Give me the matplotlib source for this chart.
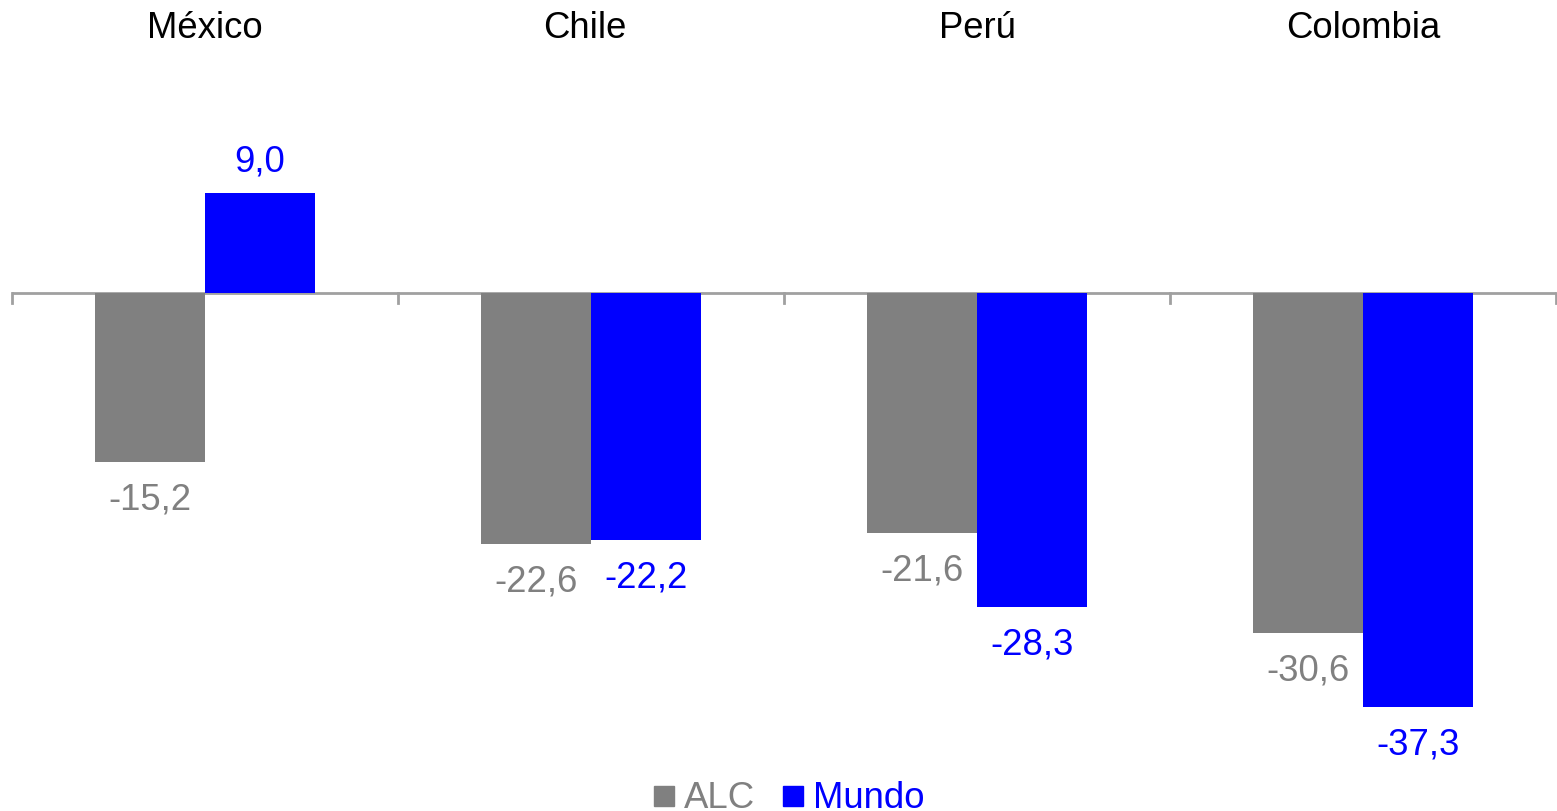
import matplotlib
matplotlib.use("Agg")
import matplotlib.pyplot as plt
import numpy as np
from matplotlib.lines import Line2D

plt.rcParams['font.family'] = ['Liberation Sans', 'DejaVu Sans']

categories = ["México", "Chile", "Perú", "Colombia"]
alc = [-15.2, -22.6, -21.6, -30.6]
mundo = [9.0, -22.2, -28.3, -37.3]
series_names = ["ALC", "Mundo"]
colors = ["#808080", "#0000FF"]

W, H = 1557, 811
fig = plt.figure(figsize=(W / 100, H / 100), dpi=100)
ax = fig.add_axes([12 / W, 0, 1544 / W, 1])

ppu = 100 / 9.0  # pixels per unit
zero_px = 293
ax.set_ylim(-(H - zero_px) / ppu, zero_px / ppu)
ax.set_xlim(-0.5, len(categories) - 0.5)

x = np.arange(len(categories))
bw = 110 / 386
b1 = ax.bar(x - bw / 2, alc, bw, color=colors[0], linewidth=0)
b2 = ax.bar(x + bw / 2, mundo, bw, color=colors[1], linewidth=0)

fs = 26.3
for bars, vals, c in [(b1, alc, colors[0]), (b2, mundo, colors[1])]:
    for rect, v in zip(bars, vals):
        off = 22.3 if v >= 0 else -27.3
        ax.annotate(f"{v:.1f}".replace(".", ","),
                    (rect.get_x() + rect.get_width() / 2, v),
                    xytext=(0, off), textcoords="offset points",
                    ha="center", va="center", color=c, fontsize=fs)

cat_dx = [0, -0.015, 0, 0]
for i, cat in enumerate(categories):
    ax.text(i + cat_dx[i], (zero_px - 28) / ppu, cat, ha="center", va="center",
            fontsize=fs, color="black")

# axis line and ticks
axis_color = "#A0A0A0"
ax.axhline(0, color=axis_color, linewidth=2, zorder=0.5)
for b in np.arange(-0.5, len(categories), 1.0):
    ax.plot([b, b], [0, -10 / ppu], color=axis_color, linewidth=2,
            clip_on=False, zorder=0.5)

ax.axis("off")

handles = [Line2D([], [], marker="s", linestyle="none", markersize=15,
                  markerfacecolor=c, markeredgecolor=c) for c in colors]
leg = fig.legend(handles, series_names, loc="center",
                 bbox_to_anchor=(0.5055, 1 - 799 / H), ncol=2, frameon=False,
                 fontsize=fs, handletextpad=0.15, columnspacing=0.65,
                 handlelength=0.8, borderaxespad=0)
for t, c in zip(leg.get_texts(), colors):
    t.set_color(c)

fig.savefig("out.png", dpi=100)
